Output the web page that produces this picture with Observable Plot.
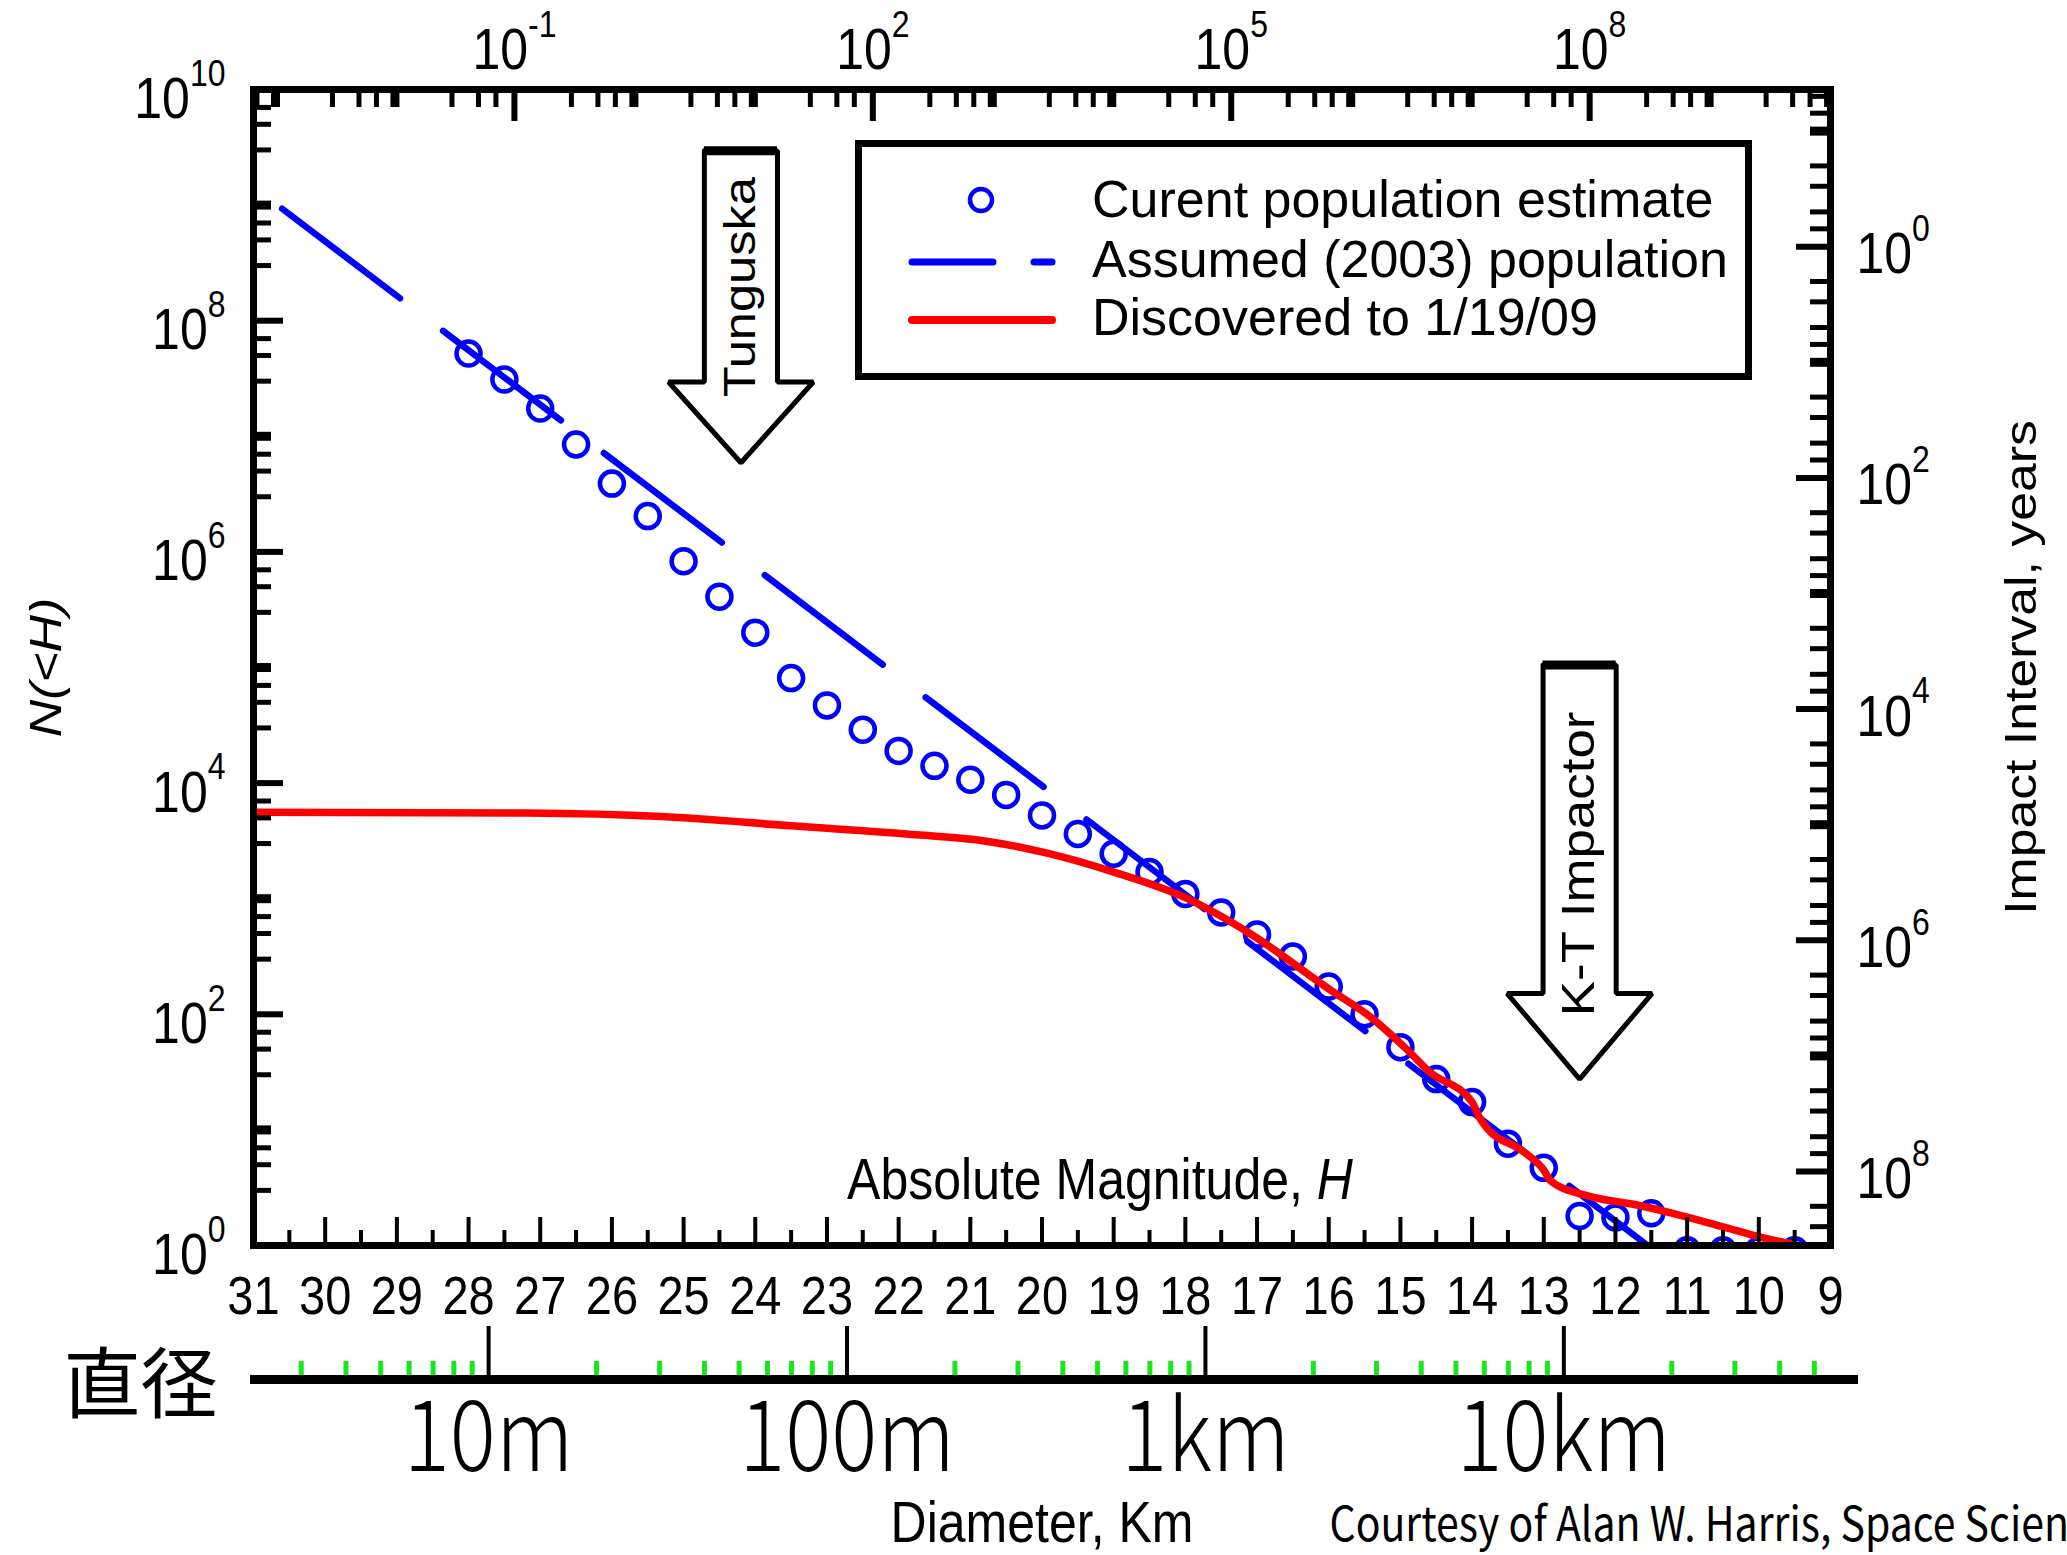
<!DOCTYPE html>
<html><head><meta charset="utf-8">
<script src="https://cdn.jsdelivr.net/npm/d3@7"></script>
<script src="https://cdn.jsdelivr.net/npm/@observablehq/plot@0.6"></script>
<style>
html,body{margin:0;padding:0;background:#fff;overflow:hidden;width:2067px;height:1555px;}
#wrap{position:relative;width:2067px;height:1555px;}
#wrap svg{position:absolute;left:0;max-width:none;}
</style></head>
<body><div id="wrap"></div>
<script>
// ---------------- data ----------------
// Current population estimate (open circles): absolute magnitude H and cumulative N(<H)
const circH = [28,27.5,27,26.5,26,25.5,25,24.5,24,23.5,23,22.5,22,21.5,21,20.5,20,19.5,19,18.5,18,17.5,17,16.5,16,15.5,15,14.5,14,13.5,13,12.5,12,11.5,11,10.5,10,9.5];
const circN = [5.2e7,3.1e7,1.74e7,8.5e6,3.9e6,2.04e6,8.3e5,4.1e5,2.0e5,8.1e4,4.7e4,2.9e4,1.9e4,1.41e4,1.07e4,7900,5250,3630,2450,1700,1100,760,490,316,174,100,52,27.5,17.4,7.6,4.7,1.8,1.75,1.9,0.91,0.91,0.91,0.91];
// Assumed (2003) population: straight power law
const assumedH = [30.6, 11.55];
const assumedN = [9.3e8, 1];
// Discovered to 1/19/09
const discH = [31,27.2,25.3,23.5,21.7,20.8,19.9,19.0,18.0,17.1,16.0,15.4,14.9,14.6,14.0,13.9,13.8,13.3,13.0,12.9,12.4,11.7,11.2,10.5,9.95,9.45];
const discN = [5600,5500,5130,4270,3550,3160,2450,1700,1020,500,166,93,49,32,17.4,12.9,10.5,6.6,4.5,3.6,2.7,2.24,1.9,1.45,1.17,1.0];
// Annotation arrows
const arrowLabels = ["Tunguska", "K-T Impactor"];
const arrowH = [24.2, 12.5];
const arrowTopN = [2.95e9, 1.05e5];
const arrowShoulderN = [2.95e7, 151];
const arrowTipN = [5.9e6, 27.5];
const arrowTextN = [1.95e8, 2000];
// Tick labels
const hLabels = [31,30,29,28,27,26,25,24,23,22,21,20,19,18,17,16,15,14,13,12,11,10,9];
const leftExps = [0,2,4,6,8,10];
const rightExps = [0,2,4,6,8];
const topExps = [-1,2,5,8];
const diamMajorKm = [0.01, 0.1, 1, 10];
const diamLabels = ["10m", "100m", "1km", "10km"];
const legendLabels = ["Curent population estimate", "Assumed (2003) population", "Discovered to 1/19/09"];

// ---------------- scale relations ----------------
const logC = 8.64;                       // impact interval T = 10^logC / N
const hOfLogE = e => (15.416 - e) / 0.6; // impact energy (top axis)
const logDofH = h => (17.72 - h) / 5;    // diameter in km

const W = 2067, HT = 1555, mL = 253, mR = 237, mT = 89, mB = 310;
const FW = W - mL - mR, FH = HT - mT - mB;
const FONT = "'Liberation Sans', Arial, sans-serif";
const CJK = "'Noto Sans CJK JP', sans-serif";
const S = 1.15; // vertical stretch of lettering, as in the reference

// tick position lists
const leftMajor = leftExps.map(e => 10 ** e);
const leftOdd = [1,3,5,7,9].map(e => 10 ** e);
const leftMinor = [];
for (let e = 0; e < 10; e++) for (const m of [3,5,7]) leftMinor.push(m * 10 ** e);
const inN = n => n >= 1 && n <= 1e10;
const rightMajor = rightExps.map(e => 10 ** (logC - e));
const rightOdd = [-1,1,3,5,7].map(e => 10 ** (logC - e)).filter(inN);
const rightMinor = [];
for (let e = -2; e <= 8; e++) for (const m of [2,3,5,7]) { const n = 10 ** logC / (m * 10 ** e); if (inN(n)) rightMinor.push(n); }
const topLong = topExps.map(hOfLogE);
const topDec = d3.range(-3, 11).filter(e => !topExps.includes(e)).map(hOfLogE).filter(h => h <= 31 && h >= 9);
const topMinor = [];
for (let e = -4; e <= 10; e++) for (const m of [3,5,7]) { const h = hOfLogE(e + Math.log10(m)); if (h <= 31 && h >= 9) topMinor.push(h); }
const botMajor = d3.range(10, 31);
const botMinor = d3.range(9.5, 31, 1);

const circIdx = d3.range(circH.length);
const discIdx = d3.range(discH.length);
const assIdx = d3.range(assumedH.length);

const arrowPoly = [];
arrowLabels.forEach((lab, i) => {
  const h = arrowH[i], s = 0.51, w = 1.01;
  const t = arrowTopN[i], sh = arrowShoulderN[i], tip = arrowTipN[i];
  [[h + s, t], [h - s, t], [h - s, sh], [h - w, sh], [h, tip], [h + w, sh], [h + s, sh], [h + s, t]]
    .forEach(([x, y]) => arrowPoly.push({id: lab, x, y}));
});

const main = Plot.plot({
  width: W, height: HT,
  marginLeft: mL, marginRight: mR, marginTop: mT, marginBottom: mB,
  style: {fontFamily: FONT, background: "white", overflow: "visible"},
  x: {domain: [31, 9], axis: null},
  y: {type: "log", domain: [1, 1e10], axis: null},
  marks: [
    // data
    Plot.line(assIdx, {x: i => assumedH[i], y: i => assumedN[i], stroke: "#0000ff", strokeWidth: 6.5, strokeDasharray: "148,54", strokeLinecap: "round", clip: true}),
    Plot.dot(circIdx, {x: i => circH[i], y: i => circN[i], r: 12, stroke: "#0000ff", strokeWidth: 4.5, fill: "none", clip: true}),
    Plot.line(discIdx, {x: i => discH[i], y: i => discN[i], stroke: "#ff0000", strokeWidth: 7.5, curve: "monotone-x", clip: true}),
    // arrows
    Plot.line(arrowPoly, {x: "x", y: "y", z: "id", stroke: "black", fill: "white", strokeWidth: 5, strokeLinejoin: "miter"}),
    Plot.ruleY([0, 1], {y: i => arrowTopN[i], x1: i => arrowH[i] + 0.51, x2: i => arrowH[i] - 0.51, strokeWidth: 9}),
    Plot.text([0, 1], {x: i => arrowH[i], y: i => arrowTextN[i], text: i => arrowLabels[i], rotate: -90, fontSize: i => i === 0 ? 44 : 46, fill: "black", textAnchor: "middle"}),
    // ticks (inward)
    Plot.tickY(leftMajor, {y: d => d, insetRight: FW - 30, strokeWidth: 6}),
    Plot.tickY(leftOdd, {y: d => d, insetRight: FW - 18, strokeWidth: 9}),
    Plot.tickY(leftMinor, {y: d => d, insetRight: FW - 18, strokeWidth: 5}),
    Plot.tickY(rightMajor, {y: d => d, insetLeft: FW - 34, strokeWidth: 6}),
    Plot.tickY(rightOdd, {y: d => d, insetLeft: FW - 20, strokeWidth: 9}),
    Plot.tickY(rightMinor, {y: d => d, insetLeft: FW - 20, strokeWidth: 5}),
    Plot.tickX(topLong, {x: d => d, insetBottom: FH - 32, strokeWidth: 6}),
    Plot.tickX(topDec, {x: d => d, insetBottom: FH - 18, strokeWidth: 9}),
    Plot.tickX(topMinor, {x: d => d, insetBottom: FH - 18, strokeWidth: 5}),
    Plot.tickX(botMajor, {x: d => d, insetTop: FH - 28, strokeWidth: 4}),
    Plot.tickX(botMinor, {x: d => d, insetTop: FH - 15, strokeWidth: 4}),
    Plot.frame({stroke: "black", strokeWidth: 7}),
    // tick labels
    Plot.text(hLabels, {x: d => d, frameAnchor: "bottom", dy: 51, text: d => String(d), fontSize: 47, textAnchor: "middle", lineAnchor: "middle"}),
    Plot.text(leftExps, {y: d => 10 ** d, frameAnchor: "left", dx: -28, dy: 9, textAnchor: "end", text: d => `10^${d}`, fontSize: 50, lineAnchor: "middle"}),
    Plot.text(rightExps, {y: d => 10 ** (logC - d), frameAnchor: "right", dx: 26, dy: 7, textAnchor: "start", text: d => `10^${d}`, fontSize: 50, lineAnchor: "middle"}),
    Plot.text(topExps, {x: d => hOfLogE(d), frameAnchor: "top", dy: -40, text: d => `10^${d}`, fontSize: 50, textAnchor: "middle", lineAnchor: "middle"}),
    // axis titles
    Plot.text(["Absolute Magnitude, *H*"], {frameAnchor: "bottom", dx: 58, dy: -65, fontSize: 50, textAnchor: "middle", lineAnchor: "middle"}),
    Plot.text(["N(<H)"], {frameAnchor: "left", dx: -207, rotate: -90, fontSize: 45, fontStyle: "italic", textAnchor: "middle", lineAnchor: "middle"}),
    Plot.text(["Impact Interval, years"], {frameAnchor: "right", dx: 191, rotate: -90, fontSize: 45, textAnchor: "middle", lineAnchor: "middle"})
  ]
});
main.style.top = "0px";

// diameter scale strip
const Dmin = 10 ** logDofH(31), Dmax = 10 ** logDofH(9);
const diamMinor = [];
for (let e = -3; e <= 1; e++) for (let m = 2; m <= 9; m++) { const v = m * 10 ** e; if (v >= Dmin && v <= Dmax) diamMinor.push(v); }
const diam = Plot.plot({
  width: W, height: 255,
  marginLeft: mL, marginRight: mR, marginTop: 26, marginBottom: 176,
  style: {fontFamily: FONT, background: "transparent", overflow: "visible"},
  x: {type: "log", domain: [Dmin, Dmax], axis: null},
  y: {domain: [0, 1], axis: null},
  marks: [
    Plot.ruleX(diamMinor, {x: d => d, y1: 0, y2: 0.34, stroke: "#18e818", strokeWidth: 5}),
    Plot.ruleX(diamMajorKm, {x: d => d, y1: 0, y2: 1, stroke: "black", strokeWidth: 4}),
    Plot.ruleY([0], {y: d => d, stroke: "black", strokeWidth: 9, insetLeft: -3, insetRight: -28}),
    Plot.text(diamMajorKm, {x: d => d, y: 0, dy: 58, text: (d, i) => diamLabels[i], fontSize: 86, fontFamily: CJK, fontWeight: 300, textAnchor: "middle", lineAnchor: "middle"}),
    Plot.text(["Diameter, Km"], {frameAnchor: "bottom", dy: 144, fontSize: 50, textAnchor: "middle", lineAnchor: "middle"}),
    Plot.text(["直径"], {frameAnchor: "left", dx: -113, dy: 34, fontSize: 77, fontFamily: CJK, textAnchor: "middle", lineAnchor: "middle"}),
    Plot.text(["Courtesy of Alan W. Harris, Space Science Institute"], {frameAnchor: "bottom-left", dx: 1076, dy: 146, textAnchor: "start", fontSize: 41, fontFamily: CJK, lineAnchor: "middle"})
  ]
});
diam.style.top = "1300px";

const wrap = document.getElementById("wrap");
wrap.appendChild(main);
wrap.appendChild(diam);

// legend
const lg = d3.create("svg").attr("width", 897).attr("height", 240)
  .style("position", "absolute").style("left", "855px").style("top", "140px");
lg.append("rect").attr("x", 3.5).attr("y", 3.5).attr("width", 890).attr("height", 233)
  .attr("fill", "white").attr("stroke", "black").attr("stroke-width", 7);
lg.append("circle").attr("cx", 126).attr("cy", 60).attr("r", 11).attr("fill", "none").attr("stroke", "#0000ff").attr("stroke-width", 4.5);
lg.append("line").attr("x1", 57).attr("x2", 138).attr("y1", 122).attr("y2", 122).attr("stroke", "#0000ff").attr("stroke-width", 7).attr("stroke-linecap", "round");
lg.append("line").attr("x1", 179).attr("x2", 197).attr("y1", 122).attr("y2", 122).attr("stroke", "#0000ff").attr("stroke-width", 7).attr("stroke-linecap", "round");
lg.append("line").attr("x1", 57).attr("x2", 197).attr("y1", 180).attr("y2", 180).attr("stroke", "#ff0000").attr("stroke-width", 8).attr("stroke-linecap", "round");
lg.selectAll("text.l").data(legendLabels).join("text")
  .attr("x", 237).attr("y", (d, i) => [59, 119, 177][i]).attr("dy", "0.35em")
  .attr("font-family", FONT).attr("font-size", 52).text(d => d);
wrap.appendChild(lg.node());

// superscripts and italics in text
for (const svg of [main, diam]) {
  d3.select(svg).selectAll("text").each(function () {
    const t = this.textContent;
    const fs = parseFloat(getComputedStyle(this).fontSize) || 50;
    let m = /^10\^(-?\d+)$/.exec(t);
    if (m) {
      this.textContent = "";
      d3.select(this).append("tspan").text("10");
      d3.select(this).append("tspan").attr("dy", -0.56 * fs).attr("font-size", 0.64 * fs).text(m[1]);
      return;
    }
    if (t.includes("*")) {
      const parts = t.split("*");
      this.textContent = "";
      parts.forEach((p, i) => { if (p) d3.select(this).append("tspan").attr("font-style", i % 2 ? "italic" : null).text(p); });
    }
  });
}

// vertical stretch of lettering (the reference's type is taller than it is wide)
for (const svg of [main, diam]) {
  d3.select(svg).selectAll("text").each(function () {
    if (/[\u4e00-\u9fff]/.test(this.textContent)) return;
    const bb = this.getBBox();
    const tr = this.getAttribute("transform") || "";
    const ptr = (this.parentNode && this.parentNode.getAttribute && this.parentNode.getAttribute("transform")) || "";
    if (/rotate/.test(tr) || /rotate/.test(ptr)) {
      const cx = bb.x + bb.width / 2;
      this.setAttribute("transform", `${tr} translate(${cx * (1 - S)},0) scale(${S},1)`);
    } else {
      const cy = bb.y + bb.height / 2;
      this.setAttribute("transform", `${tr} translate(0,${cy * (1 - S)}) scale(1,${S})`);
    }
  });
}
</script>
</body></html>
